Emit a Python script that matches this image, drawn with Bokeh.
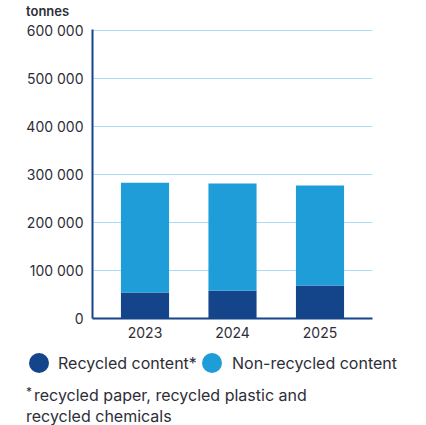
from bokeh.plotting import figure
from bokeh.models import Range1d, FixedTicker, ColumnDataSource, Div
from bokeh.layouts import column
from bokeh.embed import file_html
from bokeh.resources import INLINE

# ---- data ----
years = ["2023", "2024", "2025"]
recycled = [54000, 58000, 69000]
non_recycled = [229000, 223000, 208000]
y_ticks = [0, 100000, 200000, 300000, 400000, 500000, 600000]
y_tick_labels = ["0", "100 000", "200 000", "300 000", "400 000", "500 000", "600 000"]
series_names = ["Recycled content*", "Non-recycled content"]
footnote = ["recycled paper, recycled plastic and", "recycled chemicals"]
unit_label = "tonnes"

DARK = "#14448a"
LIGHT = "#1e9dd9"
GRID = "#aadcf5"
TEXT = "#2e2e38"
FONT = "Inter"

xs = list(range(len(years)))
src = ColumnDataSource(dict(x=xs, rec=recycled, non=non_recycled))

TOP_H = 20
p = figure(width=426, height=340 - TOP_H, x_range=Range1d(-0.6, 2.6), y_range=Range1d(0, 602000),
           output_backend="svg", toolbar_location=None, title=None,
           min_border_left=92, min_border_right=54, min_border_top=29 - TOP_H, min_border_bottom=22)
p.outline_line_color = None

p.vbar_stack(["rec", "non"], x="x", width=0.55, source=src, color=[DARK, LIGHT], line_color=None)

p.xgrid.grid_line_color = None
p.ygrid.ticker = FixedTicker(ticks=y_ticks)
p.ygrid.grid_line_color = GRID

p.yaxis.ticker = FixedTicker(ticks=y_ticks)
p.yaxis.major_label_overrides = {t: l for t, l in zip(y_ticks, y_tick_labels)}
p.xaxis.ticker = FixedTicker(ticks=xs)
p.xaxis.major_label_overrides = {i: y for i, y in zip(xs, years)}
for ax in (p.xaxis[0], p.yaxis[0]):
    ax.major_tick_line_color = None
    ax.minor_tick_line_color = None
    ax.axis_line_color = DARK
    ax.axis_line_width = 2
    ax.major_label_text_font = FONT
    ax.major_label_text_font_size = "14px"
    ax.major_label_text_color = TEXT
p.yaxis.major_label_standoff = 3
p.xaxis.major_label_standoff = 2

# ---- html texts ----
def circ(left, color):
    return (f'<div style="position:absolute;left:{left}px;top:13px;width:20px;height:20px;'
            f'border-radius:50%;background:{color};"></div>')

def txt(left, top, t, size=16, weight="normal"):
    return (f'<div style="position:absolute;left:{left}px;top:{top}px;font-family:{FONT};'
            f'font-size:{size}px;line-height:20px;color:{TEXT};font-weight:{weight};'
            f'white-space:nowrap;">{t}</div>')

top = Div(text='<div style="position:relative;width:426px;height:20px;">'
          + txt(26, 1, unit_label, size=13, weight="600") + '</div>',
          width=426, height=TOP_H, margin=0)

html = ('<div style="position:relative;width:426px;height:85px;">'
        + circ(29, DARK) + txt(58, 13, series_names[0])
        + circ(202, LIGHT) + txt(232, 13, series_names[1])
        + txt(26, 42, "*", size=12)
        + txt(34, 45, footnote[0]) + txt(26, 66, footnote[1])
        + '</div>')
d = Div(text=html, width=426, height=85, margin=0)

layout = column(top, p, d, spacing=0)
open("out.html", "w").write(file_html(layout, INLINE))
